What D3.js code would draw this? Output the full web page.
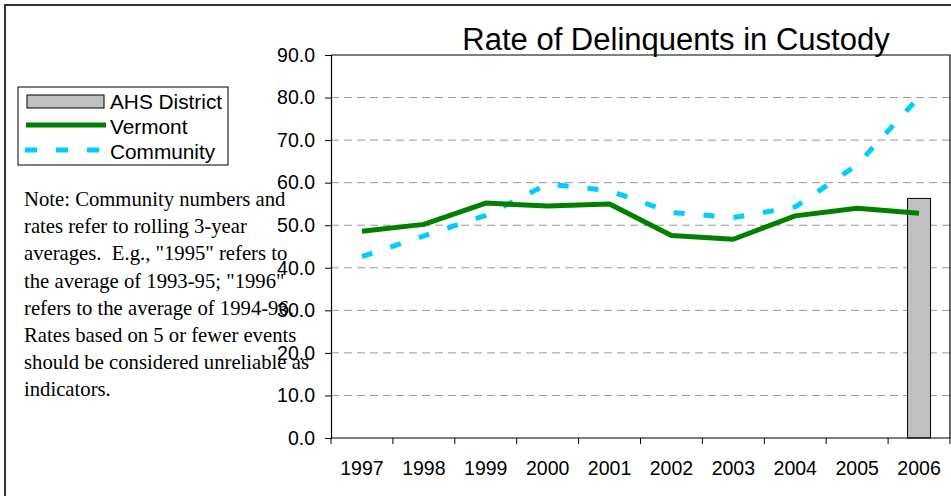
<!DOCTYPE html>
<html>
<head>
<meta charset="utf-8">
<script src="https://cdn.jsdelivr.net/npm/d3@7"></script>
<style>
  html, body { margin: 0; padding: 0; background: #fff; }
  svg { display: block; }
  .note { white-space: pre; }
</style>
</head>
<body>
<svg id="chart" width="951" height="496"></svg>
<script>
// Data: rate per year
const years = ["1997", "1998", "1999", "2000", "2001", "2002", "2003", "2004", "2005", "2006"];
const vermont = [48.6, 50.2, 55.2, 54.5, 55.0, 47.6, 46.7, 52.2, 54.0, 52.8];
const community = [42.6, 47.5, 52.3, 59.7, 58.1, 53.0, 51.8, 54.3, 64.2, 80.1];
const ahsDistrict = [null, null, null, null, null, null, null, null, null, 56.3];
const yTicks = [0, 10, 20, 30, 40, 50, 60, 70, 80, 90];

const noteLines = [
  "Note: Community numbers and",
  "rates refer to rolling 3-year",
  "averages.  E.g., \"1995\" refers to",
  "the average of 1993-95; \"1996\"",
  "refers to the average of 1994-96.",
  "Rates based on 5 or fewer events",
  "should be considered unreliable as",
  "indicators."
];

const svg = d3.select("#chart");
const plot = { left: 331, right: 950, top: 55, bottom: 438 };

const x = d3.scaleBand().domain(years).range([plot.left, plot.right]);
const y = d3.scaleLinear().domain([0, 90]).range([plot.bottom, plot.top]);

// Outer chart frame
svg.append("rect")
  .attr("x", 5).attr("y", 5).attr("width", 980).attr("height", 520)
  .attr("fill", "none").attr("stroke", "#333").attr("stroke-width", 2);

// Dashed gridlines
svg.append("g").selectAll("line")
  .data(yTicks.filter(d => d > 0 && d < 90))
  .join("line")
  .attr("x1", plot.left).attr("x2", plot.right)
  .attr("y1", d => y(d)).attr("y2", d => y(d))
  .attr("stroke", "#999").attr("stroke-width", 1)
  .attr("stroke-dasharray", "8,5");

// Plot top/right border
svg.append("path")
  .attr("d", `M${plot.left},${plot.top}H${plot.right}V${plot.bottom}`)
  .attr("fill", "none").attr("stroke", "#000").attr("stroke-width", 1.2);

// Bars (AHS District)
const barW = 23;
svg.append("g").selectAll("rect")
  .data(years.map((yr, i) => ({ yr, v: ahsDistrict[i] })).filter(d => d.v != null))
  .join("rect")
  .attr("x", d => x(d.yr) + x.bandwidth() / 2 - barW / 2)
  .attr("y", d => y(d.v))
  .attr("width", barW)
  .attr("height", d => y(0) - y(d.v))
  .attr("fill", "#c0c0c0").attr("stroke", "#000").attr("stroke-width", 1);

const line = d3.line()
  .x((d, i) => x(years[i]) + x.bandwidth() / 2)
  .y(d => y(d));

// Community (dashed)
svg.append("path")
  .datum(community)
  .attr("d", line)
  .attr("fill", "none").attr("stroke", "#00ccff").attr("stroke-width", 5)
  .attr("stroke-dasharray", "11,19");

// Vermont
svg.append("path")
  .datum(vermont)
  .attr("d", line)
  .attr("fill", "none").attr("stroke", "#008000").attr("stroke-width", 5)
  .attr("stroke-linejoin", "round");

// Y axis
const yAxis = svg.append("g")
  .attr("transform", `translate(${plot.left},0)`)
  .call(d3.axisLeft(y).tickValues(yTicks).tickFormat(d3.format(".1f")).tickSizeOuter(0).tickSize(6).tickPadding(10));
yAxis.select(".domain").attr("stroke", "#000").attr("stroke-width", 1.2);
yAxis.selectAll("line").attr("stroke", "#000");
yAxis.selectAll("text")
  .attr("font-family", "Arial, 'Liberation Sans', sans-serif")
  .attr("font-size", 19.5).attr("fill", "#000");

// X axis with ticks on band edges
const xAxisG = svg.append("g");
xAxisG.append("line")
  .attr("x1", plot.left).attr("x2", plot.right)
  .attr("y1", plot.bottom).attr("y2", plot.bottom)
  .attr("stroke", "#000").attr("stroke-width", 1.2);
xAxisG.selectAll("line.tk")
  .data(years.concat(["end"]))
  .join("line").attr("class", "tk")
  .attr("x1", d => d === "end" ? plot.right : x(d))
  .attr("x2", d => d === "end" ? plot.right : x(d))
  .attr("y1", plot.bottom).attr("y2", plot.bottom + 6)
  .attr("stroke", "#000");
xAxisG.selectAll("text")
  .data(years)
  .join("text")
  .attr("x", d => x(d) + x.bandwidth() / 2)
  .attr("y", plot.bottom + 37)
  .attr("text-anchor", "middle")
  .attr("font-family", "Arial, 'Liberation Sans', sans-serif")
  .attr("font-size", 19.5).attr("fill", "#000")
  .text(d => d);

// Title
svg.append("text")
  .attr("x", 676).attr("y", 50)
  .attr("text-anchor", "middle")
  .attr("font-family", "Arial, 'Liberation Sans', sans-serif")
  .attr("font-size", 31).attr("fill", "#000")
  .text("Rate of Delinquents in Custody");

// Legend
const legend = svg.append("g");
legend.append("rect")
  .attr("x", 18).attr("y", 87).attr("width", 210).attr("height", 78)
  .attr("fill", "#fff").attr("stroke", "#000").attr("stroke-width", 1);
const lgFont = "Arial, 'Liberation Sans', sans-serif";
legend.append("rect")
  .attr("x", 27).attr("y", 95).attr("width", 77).attr("height", 13)
  .attr("fill", "#c0c0c0").attr("stroke", "#000").attr("stroke-width", 1);
legend.append("line")
  .attr("x1", 26).attr("x2", 106).attr("y1", 125).attr("y2", 125)
  .attr("stroke", "#008000").attr("stroke-width", 5);
legend.append("line")
  .attr("x1", 25).attr("x2", 106).attr("y1", 150).attr("y2", 150)
  .attr("stroke", "#00ccff").attr("stroke-width", 5)
  .attr("stroke-dasharray", "12,19");
const lgLabels = ["AHS District", "Vermont", "Community"];
legend.selectAll("text.lg")
  .data(lgLabels)
  .join("text").attr("class", "lg")
  .attr("x", 110)
  .attr("y", (d, i) => 109 + i * 25)
  .attr("font-family", lgFont).attr("font-size", 20.8).attr("fill", "#000")
  .text(d => d);

// Note
svg.append("g").selectAll("text")
  .data(noteLines)
  .join("text").attr("class", "note")
  .attr("x", 24)
  .attr("y", (d, i) => 206 + i * 27.2)
  .attr("font-family", "'Times New Roman', 'Liberation Serif', serif")
  .attr("font-size", 20.7).attr("fill", "#000")
  .text(d => d);
</script>
</body>
</html>
